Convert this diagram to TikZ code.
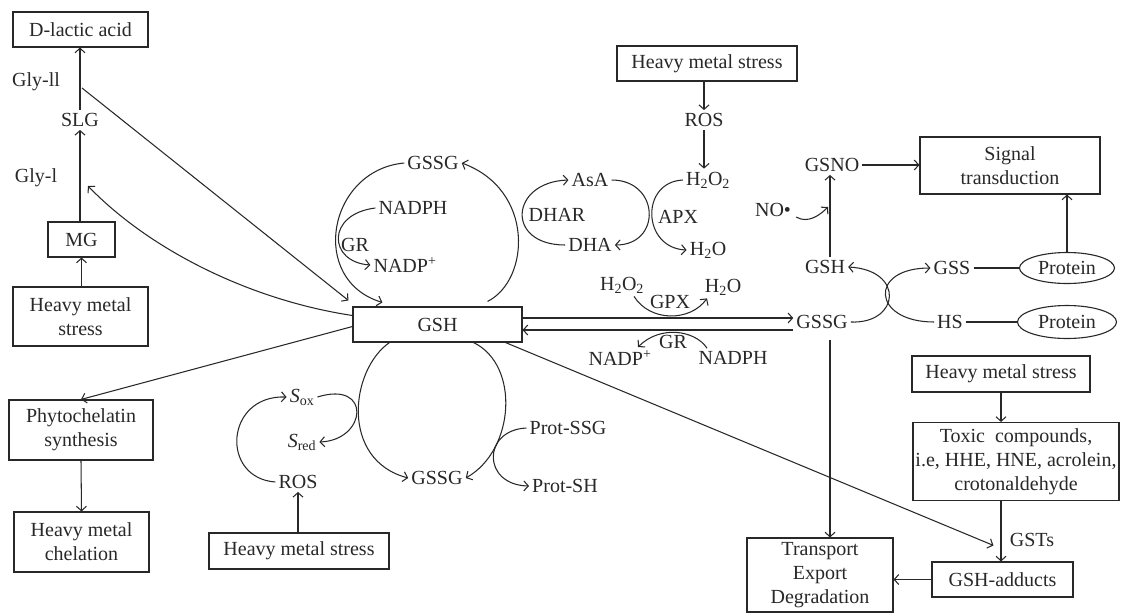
\documentclass[tikz,border=0pt]{standalone}
\usepackage{fontspec}
\setmainfont{Liberation Serif}
\usetikzlibrary{arrows.meta,shapes.geometric,calc}
\definecolor{ink}{RGB}{40,40,40}
\begin{document}
\begin{tikzpicture}[x=1pt,y=-1pt,
  every node/.style={font=\fontsize{20}{24}\selectfont, text=ink},
  bx/.style={draw=ink, line width=1.1pt, inner sep=0pt, align=center},
  tx/.style={inner sep=3pt},
  arr/.style={draw=ink, line width=1.05pt, -{Straight Barb[length=4.5pt,width=10pt]}},
  ln/.style={draw=ink, line width=1.05pt},
  el/.style={draw=ink, line width=1.1pt, ellipse, inner sep=0pt}]
\fill[white] (0,0) rectangle (1121,614);
\useasboundingbox (0,0) rectangle (1121,614);

% left column
\node[bx, minimum width=135, minimum height=35] (dlac) at (80.5,29.5) {D-lactic acid};
\node[tx] (gly2) at (36,82) {Gly-ll};
\node[tx] (slg) at (80,120) {SLG};
\node[tx] (gly1) at (36,178) {Gly-l};
\node[bx, minimum width=67, minimum height=35] (mg) at (81.5,239.5) {MG};
\node[bx, minimum width=135, minimum height=59] (hms1) at (80.5,316.5) {Heavy metal\\stress};
\node[bx, minimum width=144, minimum height=60] (phy) at (81,430) {Phytochelatin\\synthesis};
\node[bx, minimum width=135, minimum height=60] (chel) at (81.5,542) {Heavy metal\\chelation};

% centre
\node[bx, minimum width=169, minimum height=35] (gsh) at (437.5,324.5) {GSH};
\node[tx] (gssgT) at (433,163) {GSSG};
\node[tx] (nadph1) at (413,208) {NADPH};
\node[tx] (gr1) at (355,245) {GR};
\node[tx] (nadp1) at (405,265) {NADP\textsuperscript{+}};
\node[tx] (asa) at (590,180) {AsA};
\node[tx] (dha) at (590,245) {DHA};
\node[tx] (dhar) at (557,215) {DHAR};
\node[tx] (h2o2a) at (708,180) {H\textsubscript{2}O\textsubscript{2}};
\node[tx] (h2oa) at (708,250) {H\textsubscript{2}O};
\node[tx] (apx) at (678,217) {APX};
\node[bx, minimum width=180, minimum height=35] (hms2) at (707,63.5) {Heavy metal stress};
\node[tx] (ros1) at (704,120) {ROS};
\node[tx] (h2o2b) at (622,285) {H\textsubscript{2}O\textsubscript{2}};
\node[tx] (h2ob) at (723,287) {H\textsubscript{2}O};
\node[tx] (gpx) at (670,302) {GPX};
\node[tx] (gr2) at (673,342) {GR};
\node[tx] (nadp2) at (620,358) {NADP\textsuperscript{+}};
\node[tx] (nadph2) at (733,358) {NADPH};

% right
\node[tx] (gssgR) at (822,322) {GSSG};
\node[tx] (gshR) at (825,267) {GSH};
\node[tx] (gsno) at (832,165) {GSNO};
\node[tx] (no) at (773,210) {NO•};
\node[bx, minimum width=180, minimum height=57] (sig) at (1010,165.5) {Signal\\transduction};
\node[tx] (gss) at (952,268) {GSS};
\node[tx] (hs) at (950,322) {HS};
\node[el, minimum width=95, minimum height=31] (prot1) at (1067,268) {Protein};
\node[el, minimum width=99, minimum height=33] (prot2) at (1067,322) {Protein};
\node[bx, minimum width=178, minimum height=36] (hms3) at (1001,374) {Heavy metal stress};
\node[bx, minimum width=206, minimum height=78] (toxic) at (1016,461.5) {Toxic\ \ compounds,\\i.e, HHE, HNE, acrolein,\\crotonaldehyde};
\node[tx] (gsts) at (1032,540) {GSTs};
\node[bx, minimum width=141, minimum height=35] (adduct) at (1002.5,579.5) {GSH-adducts};
\node[bx, minimum width=146, minimum height=74] (trans) at (820,575) {Transport\\Export\\Degradation};

% lower
\node[tx] (gssgB) at (437,478) {GSSG};
\node[tx] (psg) at (568,428) {Prot-SSG};
\node[tx] (psh) at (565,486) {Prot-SH};
\node[tx] (sox) at (302,397) {\textit{S}\textsubscript{ox}};
\node[tx] (sred) at (302,442) {\textit{S}\textsubscript{red}};
\node[tx] (ros2) at (298,482) {ROS};
\node[bx, minimum width=180, minimum height=36] (hms4) at (299,551) {Heavy metal stress};

% helper coordinates
\coordinate (g2s) at (82,88);
\coordinate (g1e) at (88,186);
\coordinate (gv) at ($(gshR.north)+(5,0)$);
\coordinate (noe) at (828,207);
\coordinate (tv) at ($(gssgR.south)+(8,8)$);
\coordinate (u1) at ($(gsh.east)+(0,-6.5)$);
\coordinate (l1) at ($(gsh.east)+(0,5.5)$);

% left column connectors
\draw[arr] (slg.north) -- (slg.north |- dlac.south);
\draw[arr] (mg.north -| slg.south) -- (slg.south);
\draw[arr] (hms1.north -| mg.south) -- (mg.south);
\draw[arr] (phy.south) -- (chel.north);
\draw[arr] (g2s) -- ($(gsh.north west)+(-4,-6)$);
\draw[arr] ($(gsh.west)+(0,-9)$) .. controls (250,300) and (150,250) .. (g1e);
\draw[arr] ($(gsh.west)+(0,2)$) -- (phy.north);

% upper GSH/GSSG loop
\draw[arr] (gssgT.west) .. controls (328,170) and (308,280) .. ($(gsh.north west)+(30,-4)$);
\draw[arr] ($(gsh.north east)+(-35,-5)$) .. controls (530,280) and (535,190) .. (gssgT.east);
\draw[arr] (nadph1.west) .. controls (326,214) and (328,262) .. (nadp1.west);

% ascorbate
\draw[arr] (dha.west) .. controls (505,245) and (510,182) .. (asa.west);
\draw[arr] (asa.east) .. controls (660,180) and (662,245) .. (dha.east);
\draw[arr] (h2o2a.west) .. controls (640,182) and (642,248) .. (h2oa.west);
\draw[arr] (hms2.south -| ros1.north) -- (ros1.north);
\draw[arr] (ros1.south) -- (ros1.south |- h2o2a.north);

% GPX / GR
\draw[arr] ($(h2o2b.south)+(12,0)$) .. controls (650,322) and (690,322) .. ($(h2ob.south)+(-16,0)$);
\draw[arr] ($(nadph2.north)+(-26,0)$) .. controls (695,330) and (660,325) .. ($(nadp2.north)+(18,0)$);
\draw[arr] (u1) -- (u1 -| gssgR.west);
\draw[arr] (l1 -| gssgR.west) -- (l1);

% right side
\draw[arr] (gv) -- (gv |- gsno.south);
\draw[arr] ($(no.east)+(2,7)$) .. controls (808,224) and (820,215) .. (noe);
\draw[arr] (gsno.east) -- (gsno.east -| sig.west);
\draw[arr] (prot1.north) -- (prot1.north |- sig.south);
\draw[arr] (gssgR.east) .. controls (900,324) and (905,270) .. (gshR.east);
\draw[arr] (hs.west) .. controls (872,322) and (868,268) .. (gss.west);
\draw[ln] (gss.east) -- (prot1.west);
\draw[ln] (hs.east) -- (prot2.west);
\draw[arr] (tv) -- (tv |- trans.north);
\draw[arr] (hms3.south) -- (hms3.south |- toxic.north);
\draw[arr] (hms3.south |- toxic.south) -- (hms3.south |- adduct.north);
\draw[arr] (adduct.west) -- (adduct.west -| trans.east);
\draw[arr] ($(gsh.south east)+(-17,0)$) -- ($(adduct.north west)+(62,-16)$);

% lower loop
\draw[arr] ($(gsh.south west)+(37,0)$) .. controls (350,370) and (340,460) .. (gssgB.west);
\draw[arr] ($(gsh.south east)+(-49,0)$) .. controls (520,365) and (515,450) .. (gssgB.east);
\draw[arr] (psg.west) .. controls (482,430) and (482,485) .. (psh.west);
\draw[arr] (ros2.west) .. controls (220,478) and (225,395) .. (sox.west);
\draw[arr] (sox.east) .. controls (372,380) and (367,440) .. (sred.east);
\draw[arr] (hms4.north -| ros2.south) -- (ros2.south);
\end{tikzpicture}
\end{document}
